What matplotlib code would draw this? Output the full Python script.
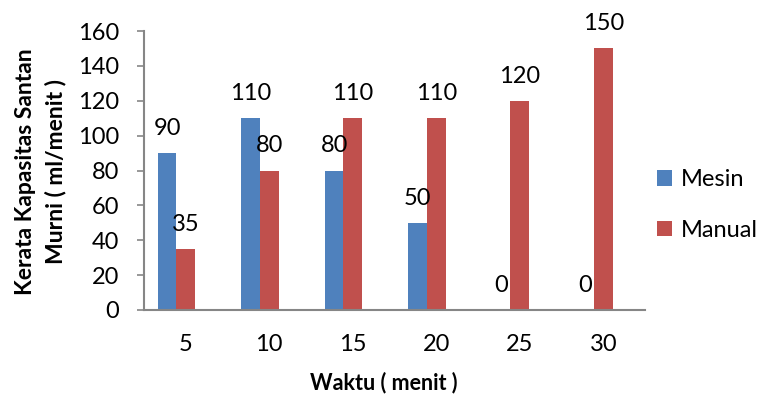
import matplotlib
matplotlib.use("Agg")
import matplotlib.pyplot as plt
import numpy as np
from matplotlib.patches import Patch

# Data
waktu = ["5", "10", "15", "20", "25", "30"]
mesin = [90, 110, 80, 50, 0, 0]
manual = [35, 80, 110, 110, 120, 150]
y_ticks = [0, 20, 40, 60, 80, 100, 120, 140, 160]

plt.rcParams["font.family"] = ["Lato", "DejaVu Sans"]

W, H = 761, 397
fig = plt.figure(figsize=(W / 100, H / 100), dpi=100)
ax = fig.add_axes([144 / W, (H - 310) / H, (645 - 144) / W, (310 - 31) / H])

x = np.arange(len(waktu))
bw = 0.2216
blue = "#4F81BD"
red = "#C0504D"
b1 = ax.bar(x - bw, mesin, width=bw, color=blue, align="center", linewidth=0)
b2 = ax.bar(x, manual, width=bw, color=red, align="center", linewidth=0)

fs = 17
for bars, vals in ((b1, mesin), (b2, manual)):
    for rect, v in zip(bars, vals):
        ax.annotate(str(v), (rect.get_x() + rect.get_width() / 2, v),
                    xytext=(0, 13), textcoords="offset points",
                    ha="center", va="baseline", fontsize=fs, color="black")

ax.set_xlim(-0.5, 5.5)
ax.set_ylim(0, 160)
ax.set_yticks(y_ticks)
ax.set_yticklabels([str(t) for t in y_ticks], fontsize=fs)
ax.set_xticks(x)
ax.set_xticklabels(waktu, fontsize=fs)

gray = "#868686"
for s in ("top", "right"):
    ax.spines[s].set_visible(False)
for s in ("left", "bottom"):
    ax.spines[s].set_color(gray)
    ax.spines[s].set_linewidth(1.5)
ax.tick_params(axis="y", direction="out", length=5, width=1.2, color=gray, pad=13)
ax.tick_params(axis="x", length=0, pad=17)

fig.text(41 / W, 1 - 172 / H, "Kerata Kapasitas Santan\nMurni ( ml/menit )",
         rotation=90, ha="center", va="center", fontsize=16.5,
         fontweight="bold", linespacing=1.5, multialignment="center")
fig.text(384 / W, 1 - 383 / H, "Waktu ( menit )", ha="center", va="center",
         fontsize=15.5, fontweight="bold")

handles = [Patch(facecolor=blue, edgecolor="none"),
           Patch(facecolor=red, edgecolor="none")]
fig.legend(handles, ["Mesin", "Manual"], loc="center left",
           bbox_to_anchor=(657 / W, 1 - 205 / H), frameon=False,
           fontsize=fs, handlelength=0.65, handleheight=0.65,
           handletextpad=0.35, labelspacing=1.25, borderpad=0,
           borderaxespad=0)

fig.savefig("out.png", dpi=100)
